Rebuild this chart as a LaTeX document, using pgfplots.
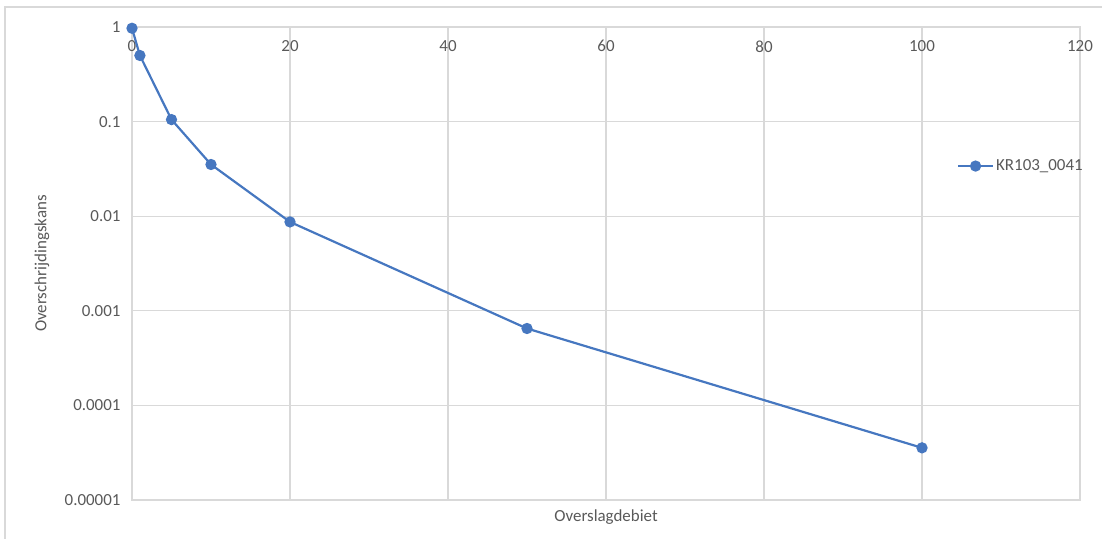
\documentclass[border=0pt]{standalone}
\usepackage{pgfplots}
\pgfplotsset{compat=1.18}
\usepackage{fontspec}
\setmainfont{Carlito}
\definecolor{excelblue}{HTML}{4677C0}
\definecolor{gridgray}{HTML}{D9D9D9}
\definecolor{textgray}{HTML}{595959}
\begin{document}
\begin{tikzpicture}[x=1bp,y=1bp]
\path[use as bounding box] (0,0) rectangle (1102,539);
\draw[gridgray, line width=1.3bp] (5,0) -- (5,532) -- (1102,532);
\begin{axis}[
  at={(132bp,39bp)}, anchor=south west,
  scale only axis, width=948bp, height=473bp,
  xmin=0, xmax=120, ymin=1e-5, ymax=1,
  ymode=log,
  xtick={0,20,40,60,80,100,120},
  ytick={1,0.1,0.01,0.001,0.0001,0.00001},
  yticklabels={1,0.1,0.01,0.001,0.0001,0.00001},
  yminorticks=false,
  xticklabel pos=upper,
  xticklabel style={anchor=north, yshift=-10bp},
  yticklabel style={xshift=-8bp},
  /pgf/number format/assume math mode=true,
  grid=major,
  major grid style={gridgray, line width=1.3bp},
  axis line style={gridgray, line width=1.3bp},
  tick style={draw=none},
  ticklabel style={font=\fontsize{17}{20}\selectfont, text=textgray},
  label style={font=\fontsize{17}{20}\selectfont, text=textgray},
  xlabel={Overslagdebiet},
  xlabel style={at={(axis description cs:0.5,0)}, anchor=center, yshift=-17bp},
  ylabel={Overschrijdingskans},
  ylabel style={at={(axis description cs:-0.0949,0.5)}, anchor=center, rotate=0},
  legend style={at={(rel axis cs:0.870,0.706)}, anchor=west, draw=none, fill=none,
    font=\fontsize{17}{20}\selectfont, text=textgray, inner sep=0pt,
    nodes={inner sep=2bp}},
  legend image code/.code={\draw[mark repeat=2,mark phase=2] plot coordinates {(0bp,0bp)(17.5bp,0bp)(35bp,0bp)};},
]
\addplot[excelblue, line width=2.2bp, mark=*, mark size=4.5bp, mark options={fill=excelblue, draw=excelblue}]
  coordinates {(0,0.97) (1,0.5) (5,0.105) (10,0.0352) (20,0.0087) (50,0.00065) (100,0.0000356)};
\addlegendentry{KR103\_0041}
\end{axis}
\end{tikzpicture}
\end{document}
